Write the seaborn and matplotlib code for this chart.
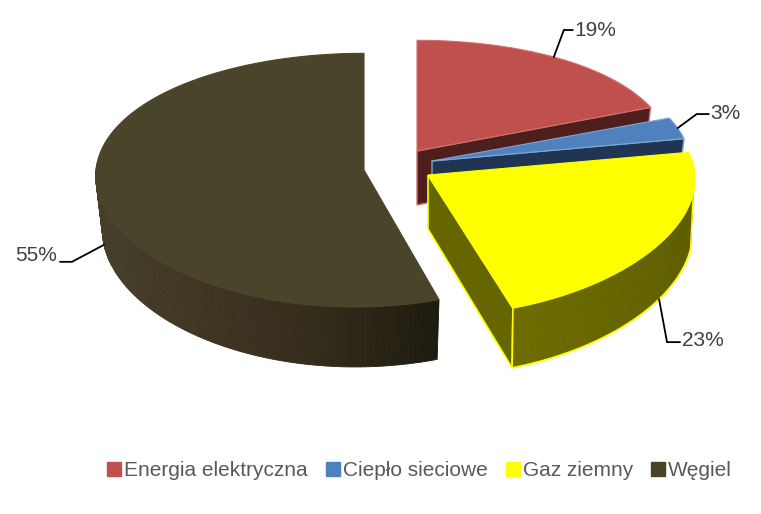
import numpy as np
import matplotlib
matplotlib.use("Agg")
import matplotlib.pyplot as plt
from matplotlib.colors import LinearSegmentedColormap
from matplotlib.patches import Patch
import seaborn as sns

# -------------------- data --------------------
categories = ["Energia elektryczna", "Ciepło sieciowe", "Gaz ziemny", "Węgiel"]
shares = [19, 3, 23, 55]
top_colors = ["#C0504D", "#4F81BD", "#FFFF00", "#4A452A"]
wall_colors = ["#4F1F1D", "#1F3552", "#666600", "#2A2616"]
edge_colors = ["#D0706C", "#7FA5D5", "#FFFF00", "#4A452A"]
# ----------------------------------------------

# fake 3D projection, tuned by eye, one set per slice
tips = [(417, 151), (432, 161), (428, 175), (364, 170)]
half_x = [254.0, 258.0, 267.0, 263.5]
half_y = [124.0, 122.0, 124.0, 126.0]
persp_y = [0.12, 0.12, 0.12, 0.08]
shear = [0.0, 0.0, 0.0, 4.5]
shrink = [0.975, 0.975, 0.99, 0.975]   # bottom rim is a bit narrower
KX = 0.03
DEPTH = 54.0

# leader elbow and end, relative to the rim point
leaders = [((10, -27), (19, -27)), ((19, -14), (31, -14)), ((8, 43), (21, 43)), ((-32, 17), (-44, 17))]
leader_on_bottom = [False, False, True, True]
leader_frac = [0.49, 0.5, 0.5, 0.5]
label_dy = [0, -1, -2, -6]


def project(i, theta, bottom=False):
    u, v = np.sin(theta), np.cos(theta)
    x = half_x[i] * u / (1 + KX * v) + shear[i] * (v - 1)
    y = -half_y[i] * v / (1 + persp_y[i] * v)
    if bottom:
        return tips[i][0] + shrink[i] * x, tips[i][1] + y + DEPTH / (1 + 0.1 * v)
    return tips[i][0] + x, tips[i][1] + y


def arc(i, t0, t1, bottom=False, n=120):
    xs, ys = project(i, np.linspace(t0, t1, n), bottom)
    return np.asarray(xs), np.asarray(ys)


sns.set_theme(style="white")
plt.rcParams["font.family"] = ["Liberation Sans", "DejaVu Sans"]

fig = plt.figure(figsize=(7.61, 5.14), dpi=100)
ax = fig.add_axes([0, 0, 1, 1])
ax.set_xlim(0, 761)
ax.set_ylim(514, 0)
ax.axis("off")

edges = 2 * np.pi * np.concatenate([[0], np.cumsum(shares)]) / np.sum(shares)

coal_cmap = LinearSegmentedColormap.from_list("coal", ["#453F2A", "#3F3421", "#332B1B", "#1D1B0F"])
gas_cmap = LinearSegmentedColormap.from_list("gas", ["#6E6C00", "#666600", "#5F5E00"])

for i in range(4):
    t0, t1 = edges[i], edges[i + 1]
    tip = tips[i]
    z = 2 + i
    ex, ey = project(i, t1)
    bx, by = project(i, t1, True)
    tip_low = tip[1] + DEPTH

    # straight wall on the clockwise edge
    if i < 3:
        lw = 1.2 if i == 2 else 1
        ax.fill([tip[0], ex, bx, tip[0]], [tip[1], ey, by, tip_low], color=wall_colors[i],
                ec=edge_colors[i], lw=lw, zorder=z)

    # outer wall, drawn in strips so it can carry the shading
    if i >= 2:
        ta = max(t0, np.pi / 2 + 0.15)
        tb = min(t1, 3 * np.pi / 2 + 0.05)
        tx, ty = arc(i, ta, tb)
        lx, ly = arc(i, ta, tb, True)
        cmap = gas_cmap if i == 2 else coal_cmap
        for k in range(len(tx) - 1):
            pos = (tx[k] - tx.min()) / (tx.max() - tx.min())
            ax.fill([tx[k], tx[k + 1], lx[k + 1], lx[k]], [ty[k], ty[k + 1], ly[k + 1], ly[k]],
                    color=cmap(pos), lw=0.6, zorder=z)
        if i == 2:
            ax.plot(lx, ly, color=edge_colors[i], lw=1.2, zorder=z)
            ax.plot([ex, bx], [ey, by], color=edge_colors[i], lw=1.2, zorder=z)
            ax.plot([tx[0], lx[0]], [ty[0], ly[0]], color=edge_colors[i], lw=1, zorder=z)

    # top face
    fx, fy = arc(i, t0, t1, n=200)
    ax.fill(np.r_[tip[0], fx], np.r_[tip[1], fy], color=top_colors[i], ec=edge_colors[i], lw=0.8, zorder=z + 0.5)

    # leader and percent label
    mid = t0 + leader_frac[i] * (t1 - t0)
    rx, ry = project(i, mid, leader_on_bottom[i])
    (e1x, e1y), (e2x, e2y) = leaders[i]
    ax.plot([rx, rx + e1x, rx + e2x], [ry, ry + e1y, ry + e1y], color="black", lw=1.3, zorder=10,
            solid_joinstyle="miter")
    ha = "left" if e2x > 0 else "right"
    ax.text(rx + e2x + (2 if e2x > 0 else -3), ry + e1y + label_dy[i], f"{shares[i]}%", ha=ha, va="center",
            fontsize=15, color="#404040", zorder=11)

handles = [Patch(facecolor=c, edgecolor=c) for c in top_colors]
ax.legend(handles, categories, loc="center", bbox_to_anchor=(419.5 / 761, 1 - 470.5 / 514), ncol=4, frameon=False,
          fontsize=15, labelcolor="#595959", handlelength=0.67, handleheight=0.67, handletextpad=0.15,
          columnspacing=0.87, borderpad=0)

fig.savefig("out.png", dpi=100, facecolor="white")
